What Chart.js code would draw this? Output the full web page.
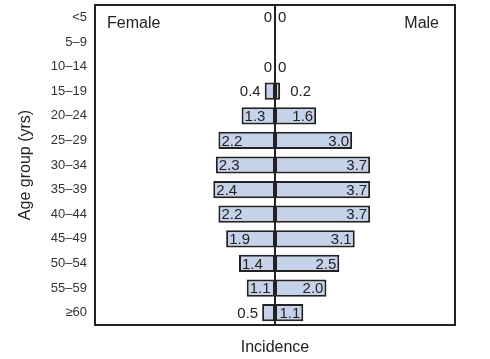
<!DOCTYPE html>
<html>
<head>
<meta charset="utf-8">
<script src="https://cdn.jsdelivr.net/npm/chart.js@4"></script>
<style>
  html, body { margin: 0; padding: 0; background: #fff; }
  #wrap { width: 490px; height: 359px; }
</style>
</head>
<body>
<div id="wrap"><canvas id="myChart"></canvas></div>
<script>
const ageGroups = ['<5','5–9','10–14','15–19','20–24','25–29','30–34','35–39','40–44','45–49','50–54','55–59','≥60'];
const female = [0, null, 0, 0.4, 1.3, 2.2, 2.3, 2.4, 2.2, 1.9, 1.4, 1.1, 0.5];
const male   = [0, null, 0, 0.2, 1.6, 3.0, 3.7, 3.7, 3.7, 3.1, 2.5, 2.0, 1.1];
const seriesNames = ['Female', 'Male'];

const ink = '#222';
const fill = '#c5d2ea';
const font = 'Liberation Sans, Arial, Helvetica, sans-serif';

// labels, center line, frame, series names
const pyramidLabels = {
    id: 'pyramidLabels',
    afterDatasetsDraw(chart) {
        const c = chart.ctx;
        const area = chart.chartArea;
        const x0 = chart.scales.x.getPixelForValue(0);
        c.save();
        c.font = '15px ' + font;
        c.fillStyle = ink;
        c.textBaseline = 'middle';
        chart.data.datasets.forEach((ds, di) => {
            const raw = di === 0 ? female : male;
            chart.getDatasetMeta(di).data.forEach((bar, i) => {
                const v = raw[i];
                if (v == null) return;
                const txt = v === 0 ? '0' : v.toFixed(1);
                const tw = c.measureText(txt).width;
                const w = Math.abs(bar.x - x0);
                const y = bar.y + 1;
                if (di === 0) {
                    if (v === 0) { c.textAlign = 'right'; c.fillText(txt, x0 - 3, y); }
                    else if (w >= tw + 5) { c.textAlign = 'left'; c.fillText(txt, bar.x + 3, y); }
                    else { c.textAlign = 'right'; c.fillText(txt, bar.x - 4, y); }
                } else {
                    if (v === 0) { c.textAlign = 'left'; c.fillText(txt, x0 + 3, y); }
                    else if (w >= tw + 5) { c.textAlign = 'right'; c.fillText(txt, bar.x - 3, y); }
                    else { c.textAlign = 'left'; c.fillText(txt, bar.x + 10, y); }
                }
            });
        });
        // center line
        c.strokeStyle = ink;
        c.lineWidth = 2;
        c.beginPath();
        c.moveTo(x0, area.top);
        c.lineTo(x0, area.bottom);
        c.stroke();
        // frame
        c.strokeRect(area.left, area.top, area.right - area.left, area.bottom - area.top);
        // series names
        c.font = '16px ' + font;
        c.textAlign = 'left';
        c.fillText(seriesNames[0], area.left + 12, area.top + 19);
        c.textAlign = 'right';
        c.fillText(seriesNames[1], area.right - 16, area.top + 19);
        c.restore();
    }
};

const ctx = document.getElementById('myChart').getContext('2d');
const chart = new Chart(ctx, {
    type: 'bar',
    data: {
        labels: ageGroups,
        datasets: [
            {
                label: seriesNames[0],
                data: female.map(v => v == null ? null : -v),
                backgroundColor: fill,
                borderColor: ink,
                borderWidth: c => (c.raw ? 2 : 0),
                borderSkipped: false
            },
            {
                label: seriesNames[1],
                data: male,
                backgroundColor: fill,
                borderColor: ink,
                borderWidth: c => (c.raw ? 2 : 0),
                borderSkipped: false
            }
        ]
    },
    options: {
        indexAxis: 'y',
        responsive: true,
        maintainAspectRatio: false,
        animation: false,
        barPercentage: 0.7,
        categoryPercentage: 1,
        layout: { padding: { left: 12, right: 35, top: 5, bottom: 0 } },
        scales: {
            x: {
                stacked: true,
                min: -7,
                max: 7,
                grid: { display: false },
                border: { display: false },
                ticks: { display: false },
                title: {
                    display: true,
                    text: 'Incidence',
                    color: ink,
                    font: { family: font, size: 16 },
                    padding: { top: 9, bottom: 2 }
                },
                afterFit: s => { s.height = 34; s.paddingLeft = 0; s.paddingRight = 0; }
            },
            y: {
                stacked: true,
                grid: { display: false, drawTicks: false },
                border: { display: false },
                ticks: {
                    color: '#333',
                    padding: 8,
                    font: { family: font, size: 13 }
                },
                title: {
                    display: true,
                    text: 'Age group (yrs)',
                    color: ink,
                    font: { family: font, size: 16 },
                    padding: 4
                },
                afterFit: s => { s.width = 83; s.paddingTop = 0; s.paddingBottom = 0; }
            }
        },
        plugins: {
            legend: { display: false },
            tooltip: { enabled: false }
        }
    },
    plugins: [pyramidLabels]
});
</script>
</body>
</html>
